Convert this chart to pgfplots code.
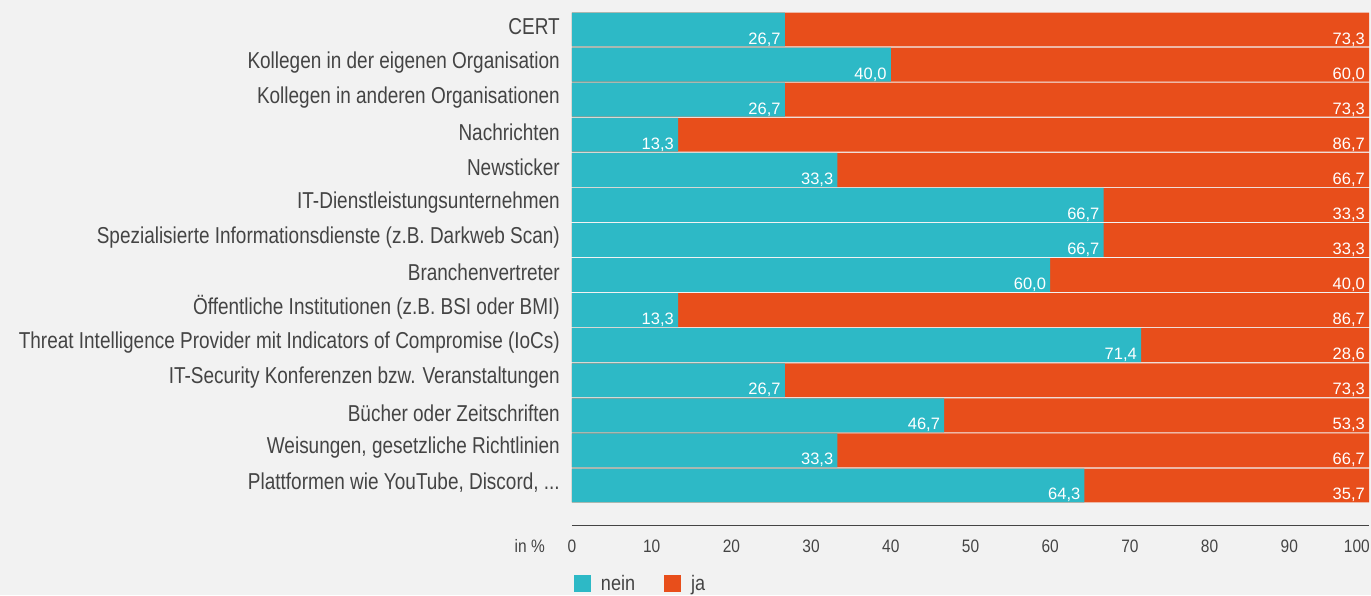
\documentclass[border=0pt]{standalone}
\usepackage{fontspec}
\setmainfont{Liberation Sans}
\newfontfamily\catfont[FakeStretch=0.825]{Liberation Sans}
\newfontfamily\numfont[FakeStretch=0.86]{Liberation Sans}
\newfontfamily\legfont[FakeStretch=0.86]{Liberation Sans}
\usepackage{pgfplots}
\pgfplotsset{compat=1.18}
\usepackage{pgfplotstable}

\definecolor{neinc}{HTML}{2DB9C6}
\definecolor{jac}{HTML}{E84E1B}
\definecolor{bgc}{HTML}{F2F2F2}
\definecolor{txtc}{HTML}{444444}

% idx 13 = top row (CERT), idx 0 = bottom row; total = nein + ja
\pgfplotstableread[col sep=comma]{
idx,nein,ja,total
13,26.7,73.3,100
12,40.0,60.0,100
11,26.7,73.3,100
10,13.3,86.7,100
9,33.3,66.7,100
8,66.7,33.3,100
7,66.7,33.3,100
6,60.0,40.0,100
5,13.3,86.7,100
4,71.4,28.6,100
3,26.7,73.3,100
2,46.7,53.3,100
1,33.3,66.7,100
0,64.3,35.7,100
}\datatable

\newcommand{\dotsx}{.{}.{}.}

\begin{document}
\begin{tikzpicture}
\useasboundingbox (0,0) rectangle (1371pt,595pt);
\fill[bgc] (0,0) rectangle (1371pt,595pt);
\begin{axis}[
  at={(572pt,70pt)}, anchor=south west,
  scale only axis, width=797pt, height=513pt,
  clip=false,
  xbar, bar shift=0pt, bar width=33.9pt,
  xmin=0, xmax=100, ymin=-1.127, ymax=13.5,
  axis x line*=bottom,
  axis y line*=left,
  x axis line style={txtc, line width=1pt, -},
  y axis line style={draw=none},
  major tick length=0pt,
  xtick={0,10,...,90},
  extra x ticks={100},
  extra x tick style={xticklabel style={anchor=east, xshift=1pt}},
  ytick={0,...,13},
  yticklabels={{Plattformen wie YouTube, Discord, \dotsx},
    {Weisungen, gesetzliche Richtlinien},
    {Bücher oder Zeitschriften},
    {IT-Security Konferenzen bzw. Veranstaltungen},
    {Threat Intelligence Provider mit Indicators of Compromise (IoCs)},
    {Öffentliche Institutionen (z.B. BSI oder BMI)},
    {Branchenvertreter},
    {Spezialisierte Informationsdienste (z.B. Darkweb Scan)},
    {IT-Dienstleistungsunternehmen},
    {Newsticker},
    {Nachrichten},
    {Kollegen in anderen Organisationen},
    {Kollegen in der eigenen Organisation},
    {CERT}},
  yticklabel style={font=\catfont\fontsize{23}{23}\selectfont, text=txtc, anchor=east, inner sep=0pt, xshift=-12pt, yshift=2.5pt},
  xticklabel style={font=\numfont\fontsize{18}{18}\selectfont, text=txtc, anchor=center, inner sep=0pt, yshift=-21pt},
  /pgf/number format/assume math mode=true,
  point meta=explicit,
  nodes near coords={\pgfmathprintnumber[fixed,fixed zerofill,precision=1,use comma]{\pgfplotspointmeta}},
  every node near coord/.append style={font=\fontsize{16.5}{16.5}\selectfont, text=white, anchor=base east, inner sep=0pt, xshift=-4pt, yshift=-14.5pt},
  legend columns=2,
  legend style={at={(0.0025,-0.0975)}, anchor=north west, draw=none, fill=none,
    inner sep=0pt, outer sep=0pt, font=\legfont\fontsize{21}{21}\selectfont, text=txtc,
    /tikz/every even column/.append style={column sep=19pt},
    nodes={inner xsep=10pt, inner ysep=0pt}},
  legend image code/.code={\fill[#1] (0pt,-8.5pt) rectangle (17pt,8.5pt);},
]
\addplot[fill=jac, draw=none, forget plot] table[x=total, y=idx, meta=ja] {\datatable};
\addplot[fill=neinc, draw=none, forget plot] table[x=nein, y=idx, meta=nein] {\datatable};
\addlegendimage{fill=neinc, draw=none}
\addlegendentry{nein}
\addlegendimage{fill=jac, draw=none}
\addlegendentry{ja}
\node[anchor=east, inner sep=0pt, font=\numfont\fontsize{18}{18}\selectfont, text=txtc] at (rel axis cs:0,0) [xshift=-27pt, yshift=-21pt] {in \%};
\end{axis}
\end{tikzpicture}
\end{document}
